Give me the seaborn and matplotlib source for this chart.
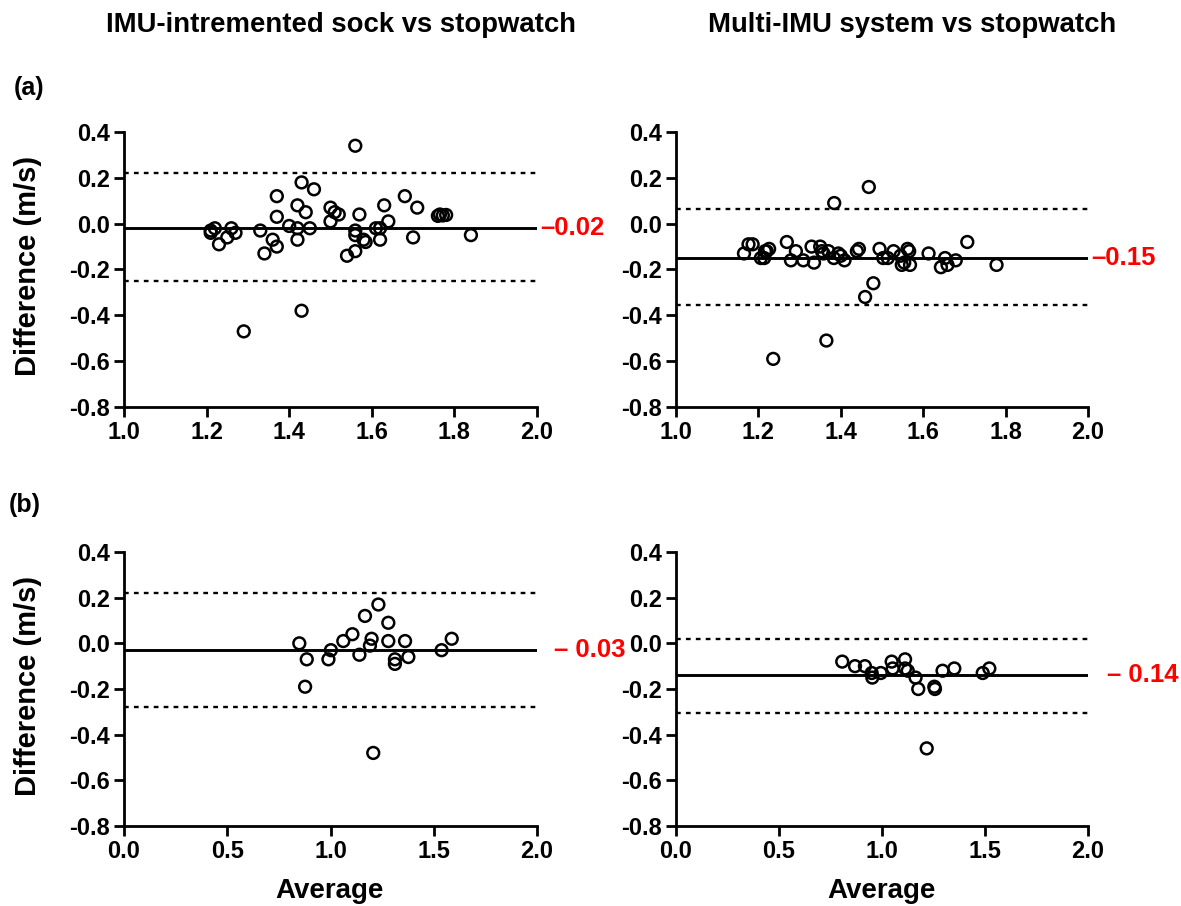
import numpy as np
import pandas as pd
import matplotlib
matplotlib.use('Agg')
import matplotlib.pyplot as plt
import matplotlib.transforms as mtransforms
import seaborn as sns


###################################################################
# data (average, difference in m/s)
###################################################################

sock_a_avg = [1.56, 1.43, 1.46, 1.37, 1.68, 1.71, 1.42, 1.44, 1.50, 1.51, 1.52, 1.50,
              1.57, 1.63, 1.64, 1.37, 1.76, 1.765, 1.772, 1.78, 1.21, 1.22, 1.21, 1.23,
              1.25, 1.26, 1.27, 1.33, 1.36, 1.37, 1.34, 1.40, 1.42, 1.42, 1.45, 1.43,
              1.29, 1.56, 1.56, 1.58, 1.585, 1.56, 1.54, 1.61, 1.62, 1.62, 1.70, 1.84]
sock_a_diff = [0.34, 0.18, 0.15, 0.12, 0.12, 0.07, 0.08, 0.05, 0.07, 0.05, 0.04, 0.01,
               0.04, 0.08, 0.01, 0.03, 0.034, 0.04, 0.036, 0.038, -0.03, -0.02, -0.04, -0.09,
               -0.06, -0.02, -0.04, -0.03, -0.07, -0.10, -0.13, -0.01, -0.02, -0.07, -0.02, -0.38,
               -0.47, -0.03, -0.05, -0.07, -0.08, -0.12, -0.14, -0.02, -0.02, -0.07, -0.06, -0.05]

multi_a_avg = [1.468, 1.384, 1.165, 1.176, 1.186, 1.206, 1.214, 1.216, 1.226, 1.220, 1.269, 1.279,
               1.291, 1.309, 1.329, 1.335, 1.350, 1.354, 1.358, 1.370, 1.383, 1.394, 1.400, 1.409,
               1.439, 1.444, 1.479, 1.459, 1.494, 1.503, 1.514, 1.528, 1.545, 1.548, 1.554, 1.562,
               1.566, 1.568, 1.613, 1.643, 1.653, 1.659, 1.679, 1.707, 1.778, 1.365, 1.236]
multi_a_diff = [0.16, 0.09, -0.13, -0.09, -0.09, -0.15, -0.15, -0.12, -0.11, -0.12, -0.08, -0.16,
                -0.12, -0.16, -0.10, -0.17, -0.10, -0.12, -0.13, -0.12, -0.15, -0.13, -0.14, -0.16,
                -0.12, -0.11, -0.26, -0.32, -0.11, -0.15, -0.15, -0.12, -0.14, -0.18, -0.17, -0.11,
                -0.12, -0.18, -0.13, -0.19, -0.15, -0.18, -0.16, -0.08, -0.18, -0.51, -0.59]

sock_b_avg = [0.849, 0.885, 0.877, 0.990, 1.002, 1.062, 1.106, 1.167, 1.232, 1.199, 1.191,
              1.140, 1.280, 1.280, 1.312, 1.312, 1.361, 1.377, 1.207, 1.538, 1.587]
sock_b_diff = [0.00, -0.07, -0.19, -0.07, -0.03, 0.01, 0.04, 0.12, 0.17, 0.02, -0.01,
               -0.05, 0.09, 0.01, -0.07, -0.09, 0.01, -0.06, -0.48, -0.03, 0.02]

multi_b_avg = [0.807, 0.869, 0.917, 0.950, 0.953, 0.994, 1.047, 1.052, 1.112, 1.112,
               1.125, 1.163, 1.176, 1.254, 1.257, 1.294, 1.351, 1.489, 1.521, 1.217]
multi_b_diff = [-0.08, -0.10, -0.10, -0.13, -0.15, -0.13, -0.08, -0.11, -0.07, -0.11,
                -0.12, -0.15, -0.20, -0.19, -0.20, -0.12, -0.11, -0.13, -0.11, -0.46]

bias = [-0.02, -0.15, -0.03, -0.14]
upper_loa = [0.22, 0.065, 0.22, 0.02]
lower_loa = [-0.25, -0.355, -0.28, -0.305]
bias_labels = ['\u20130.02', '\u20130.15', '\u2013 0.03', '\u2013 0.14']

col_titles = ['IMU-intremented sock vs stopwatch', 'Multi-IMU system vs stopwatch']
row_tags = ['(a)', '(b)']

y_ticks = [-0.8, -0.6, -0.4, -0.2, 0.0, 0.2, 0.4]
y_ticklabels = ['-0.8', '-0.6', '-0.4', '-0.2', '0.0', '0.2', '0.4']
x_ticks_a = [1.0, 1.2, 1.4, 1.6, 1.8, 2.0]
x_ticklabels_a = ['1.0', '1.2', '1.4', '1.6', '1.8', '2.0']
x_ticks_b = [0.0, 0.5, 1.0, 1.5, 2.0]
x_ticklabels_b = ['0.0', '0.5', '1.0', '1.5', '2.0']

panels = [
    pd.DataFrame({'avg': sock_a_avg, 'diff': sock_a_diff}),
    pd.DataFrame({'avg': multi_a_avg, 'diff': multi_a_diff}),
    pd.DataFrame({'avg': sock_b_avg, 'diff': sock_b_diff}),
    pd.DataFrame({'avg': multi_b_avg, 'diff': multi_b_diff}),
]

###################################################################
# style
###################################################################

sns.set_style('ticks')
plt.rcParams['font.family'] = ['Liberation Sans', 'DejaVu Sans']
plt.rcParams['font.weight'] = 'bold'
plt.rcParams['text.color'] = 'black'
plt.rcParams['axes.edgecolor'] = 'black'
plt.rcParams['axes.labelcolor'] = 'black'
plt.rcParams['xtick.color'] = 'black'
plt.rcParams['ytick.color'] = 'black'
plt.rcParams['axes.linewidth'] = 2.0
plt.rcParams['xtick.major.width'] = 2.0
plt.rcParams['ytick.major.width'] = 2.0
plt.rcParams['xtick.major.size'] = 7
plt.rcParams['ytick.major.size'] = 7
plt.rcParams['xtick.major.pad'] = 3
plt.rcParams['ytick.major.pad'] = 3

fig = plt.figure(figsize=(11.81, 9.06), dpi=100)
W, H = 1181.0, 906.0

# axes boxes in pixels: left, top, right, bottom
boxes = [(124, 132, 537, 407), (676, 132, 1088, 407),
         (124, 552, 537, 826), (676, 552, 1088, 826)]
label_pad = [0.007, 0.007, 0.040, 0.045]

for i, df in enumerate(panels):
    l, t, r, b = boxes[i]
    ax = fig.add_axes([l / W, 1 - b / H, (r - l) / W, (b - t) / H])
    sns.scatterplot(data=df, x='avg', y='diff', ax=ax, s=72, marker='o',
                    facecolors='none', edgecolor='black', linewidth=1.8,
                    clip_on=False, zorder=3)
    ax.axhline(bias[i], color='black', lw=2.1, zorder=2)
    ax.axhline(upper_loa[i], color='black', lw=1.7, ls=(0, (2, 2.2)), zorder=2)
    ax.axhline(lower_loa[i], color='black', lw=1.7, ls=(0, (2, 2.2)), zorder=2)

    if i < 2:
        ax.set_xlim(1.0, 2.0)
        ax.set_xticks(x_ticks_a)
        ax.set_xticklabels(x_ticklabels_a)
    else:
        ax.set_xlim(0.0, 2.0)
        ax.set_xticks(x_ticks_b)
        ax.set_xticklabels(x_ticklabels_b)
    ax.set_ylim(-0.8, 0.4)
    ax.set_yticks(y_ticks)
    ax.set_yticklabels(y_ticklabels)
    ax.tick_params(labelsize=17)
    for lab in ax.get_xticklabels() + ax.get_yticklabels():
        lab.set_fontweight('bold')
    ax.set_xlabel('')
    ax.set_ylabel('')
    sns.despine(ax=ax)

    trans = mtransforms.blended_transform_factory(ax.transAxes, ax.transData)
    ax.text(1 + label_pad[i], bias[i], bias_labels[i], transform=trans,
            color='red', fontsize=18.5, fontweight='bold', ha='left', va='center')

# column titles, row tags and shared axis labels
fig.text(341 / W, 1 - 25 / H, col_titles[0], ha='center', va='center', fontsize=19.8, fontweight='bold')
fig.text(912 / W, 1 - 25 / H, col_titles[1], ha='center', va='center', fontsize=19.8, fontweight='bold')
fig.text(14 / W, 1 - 88 / H, row_tags[0], ha='left', va='center', fontsize=18, fontweight='bold')
fig.text(9 / W, 1 - 505 / H, row_tags[1], ha='left', va='center', fontsize=18, fontweight='bold')
for yc in [266, 686]:
    fig.text(28 / W, 1 - yc / H, 'Difference (m/s)', rotation=90, ha='center', va='center',
             fontsize=21, fontweight='bold')
for xc in [330, 882]:
    fig.text(xc / W, 1 - 878 / H, 'Average', ha='center', va='top', fontsize=20, fontweight='bold')

fig.savefig('out.png', dpi=100)
